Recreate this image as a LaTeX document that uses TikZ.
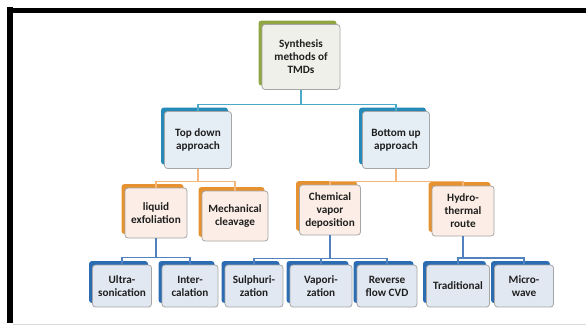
\documentclass[tikz,border=0pt]{standalone}
\usepackage{fontspec}
\setmainfont{Carlito}
\usetikzlibrary{shadows}

\definecolor{rootback}{RGB}{143,166,66}
\definecolor{rootface}{RGB}{240,240,234}
\definecolor{oneback}{RGB}{38,138,184}
\definecolor{oneface}{RGB}{230,238,245}
\definecolor{twoback}{RGB}{230,146,48}
\definecolor{twoface}{RGB}{252,238,230}
\definecolor{threeback}{RGB}{44,108,178}
\definecolor{threeface}{RGB}{226,232,242}
\definecolor{linkone}{RGB}{75,170,200}
\definecolor{linktwo}{RGB}{245,182,122}
\definecolor{linkthree}{RGB}{82,130,190}

\tikzstyle{box}=[rounded corners=3pt,draw=black!35,line width=0.8pt,align=center,
  inner sep=1pt,text=black!88,font=\bfseries\fontsize{11.2}{13}\selectfont]
\tikzstyle{rootbox}=[box,fill=rootface,minimum width=78pt,minimum height=65pt,
  drop shadow={shadow xshift=-3.5pt,shadow yshift=4pt,fill=rootback,opacity=1}]
\tikzstyle{onebox}=[box,fill=oneface,minimum width=67pt,minimum height=57pt,
  drop shadow={shadow xshift=-3.5pt,shadow yshift=4pt,fill=oneback,opacity=1}]
\tikzstyle{twobox}=[box,fill=twoface,minimum width=62pt,minimum height=50pt,
  drop shadow={shadow xshift=-3.5pt,shadow yshift=4pt,fill=twoback,opacity=1}]
\tikzstyle{threebox}=[box,fill=threeface,minimum width=58pt,minimum height=42pt,
  drop shadow={shadow xshift=-3.5pt,shadow yshift=4pt,fill=threeback,opacity=1}]
\tikzstyle{linkA}=[draw=linkone,line width=1.5pt]
\tikzstyle{linkB}=[draw=linktwo,line width=1.5pt]
\tikzstyle{linkC}=[draw=linkthree,line width=1.5pt]

\begin{document}
\begin{tikzpicture}[x=1pt,y=1pt]
  \useasboundingbox (0,0) rectangle (586,325);
  \fill[white] (0,0) rectangle (586,325);
  \draw[black,line width=6pt] (10,318) -- (10,2);
  \draw[black,line width=5pt] (7,314.5) -- (586,314.5);
  \draw[black!15,line width=0.8pt] (13,1) -- (586,1);

  \node[rootbox] (synth) at (301,268) {Synthesis\\methods of\\TMDs};

  \node[onebox] (topdown) at (198,185) {Top down\\approach};
  \node[onebox] (bottomup) at (396,185) {Bottom up\\approach};

  \node[twobox] (liquid) at (156,112) {liquid\\exfoliation};
  \node[twobox,minimum width=66pt] (mech) at (235,109) {Mechanical\\cleavage};
  \node[twobox,minimum width=61pt] (cvd) at (330,115) {Chemical\\vapor\\deposition};
  \node[twobox] (hydro) at (463,114) {Hydro-\\thermal\\route};

  \node[threebox,minimum width=59pt] (ultra) at (122,39) {Ultra-\\sonication};
  \node[threebox,minimum width=56pt] (inter) at (190,39) {Inter-\\calation};
  \node[threebox] (sulph) at (254,39) {Sulphuri-\\zation};
  \node[threebox,minimum width=62pt] (vapor) at (321,39) {Vapori-\\zation};
  \node[threebox,minimum width=60pt] (reverse) at (387,39) {Reverse\\flow CVD};
  \node[threebox,minimum width=63pt] (trad) at (458,39) {Traditional};
  \node[threebox,minimum width=59pt] (micro) at (524,39) {Micro-\\wave};

  \draw[linkA] (synth.south) -- ++(0,-14.5) -| (topdown.north);
  \draw[linkA] (synth.south) -- ++(0,-14.5) -| (bottomup.north);

  \draw[linkB] (topdown.south) -- ++(0,-12.5) -| (liquid.north);
  \draw[linkB] (topdown.south) -- ++(0,-12.5) -| (mech.north);
  \draw[linkB] (bottomup.south) -- ++(0,-12.5) -| (cvd.north);
  \draw[linkB] (bottomup.south) -- ++(0,-12.5) -| (hydro.north);

  \draw[linkC] (liquid.south) -- ++(0,-19) -| (ultra.north);
  \draw[linkC] (liquid.south) -- ++(0,-19) -| (inter.north);
  \draw[linkC] (cvd.south) -- ++(0,-23) -| (sulph.north);
  \draw[linkC] (cvd.south) -- ++(0,-23) -| (vapor.north);
  \draw[linkC] (cvd.south) -- ++(0,-23) -| (reverse.north);
  \draw[linkC] (hydro.south) -- ++(0,-21.5) -| (trad.north);
  \draw[linkC] (hydro.south) -- ++(0,-21.5) -| (micro.north);
\end{tikzpicture}
\end{document}
